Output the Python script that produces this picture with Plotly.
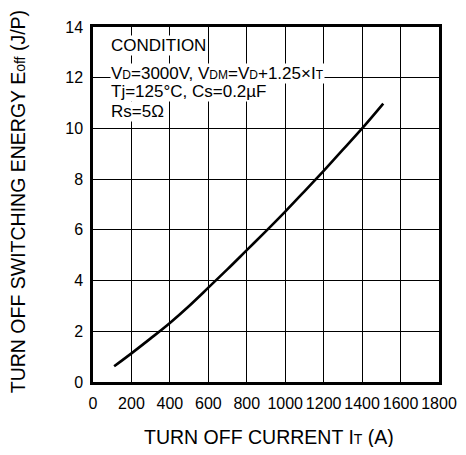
import plotly.graph_objects as go

# Data
current_a = [110, 200, 300, 400, 500, 600, 700, 800, 900, 1000, 1100, 1200, 1300, 1400, 1510]
eoff_jp = [0.62, 1.13, 1.72, 2.33, 3.0, 3.72, 4.45, 5.2, 5.95, 6.72, 7.52, 8.33, 9.16, 10.0, 10.98]

x_ticks = [0, 200, 400, 600, 800, 1000, 1200, 1400, 1600, 1800]
y_ticks = [0, 2, 4, 6, 8, 10, 12, 14]

FONT = "Liberation Sans, Arial, Helvetica, sans-serif"
SM = "<span style='font-size:{}px'>{}</span>"

fig = go.Figure()
fig.add_trace(go.Scatter(
    x=current_a, y=eoff_jp, mode="lines",
    line=dict(color="black", width=2.6, shape="spline", smoothing=1.0),
    showlegend=False, hoverinfo="skip",
))

cond_lines = [
    ("CONDITION", 13.29),
    ("V" + SM.format(12, "D") + "=3000V, V" + SM.format(12, "DM") + "=V" + SM.format(12, "D")
     + "+1.25×I" + SM.format(12, "T"), 12.17),
    ("Tj=125°C, Cs=0.2µF", 11.45),
    ("Rs=5Ω", 10.66),
]
for txt, yv in cond_lines:
    fig.add_annotation(
        x=88, y=yv, xref="x", yref="y", text=txt, showarrow=False,
        xanchor="left", yanchor="middle", bgcolor="white", borderpad=0,
        font=dict(family=FONT, size=17, color="black"),
    )

# axis titles
fig.add_annotation(
    x=0.509, y=-0.155, xref="paper", yref="paper", showarrow=False,
    text="TURN OFF CURRENT I" + SM.format(14, "T") + " (A)",
    xanchor="center", yanchor="middle",
    font=dict(family=FONT, size=19.5, color="black"),
)
fig.add_annotation(
    x=-0.218, y=0.508, xref="paper", yref="paper", showarrow=False, textangle=-90,
    text="TURN OFF SWITCHING ENERGY E" + SM.format(14, "off") + " (J/P)",
    xanchor="center", yanchor="middle",
    font=dict(family=FONT, size=19.5, color="black"),
)

axis_common = dict(
    showline=True, linecolor="black", linewidth=2.5, mirror=True,
    showgrid=True, gridcolor="black", gridwidth=1.4,
    zeroline=False, ticks="", automargin=False, tickangle=0,
    ticklabeloverflow="allow",
    tickfont=dict(family=FONT, size=16, color="black"),
)

fig.update_xaxes(
    range=[0, 1800], tickvals=x_ticks, ticktext=[str(v) for v in x_ticks],
    ticklabelstandoff=5, **axis_common,
)
fig.update_yaxes(
    range=[0, 14], tickvals=y_ticks, ticktext=[str(v) for v in y_ticks],
    ticklabelstandoff=4, **axis_common,
)

fig.update_layout(
    width=450, height=439,
    margin=dict(l=85, r=19, t=19, b=65),
    plot_bgcolor="white", paper_bgcolor="white",
    font=dict(family=FONT, color="black"),
)

fig.write_html("out.html")
